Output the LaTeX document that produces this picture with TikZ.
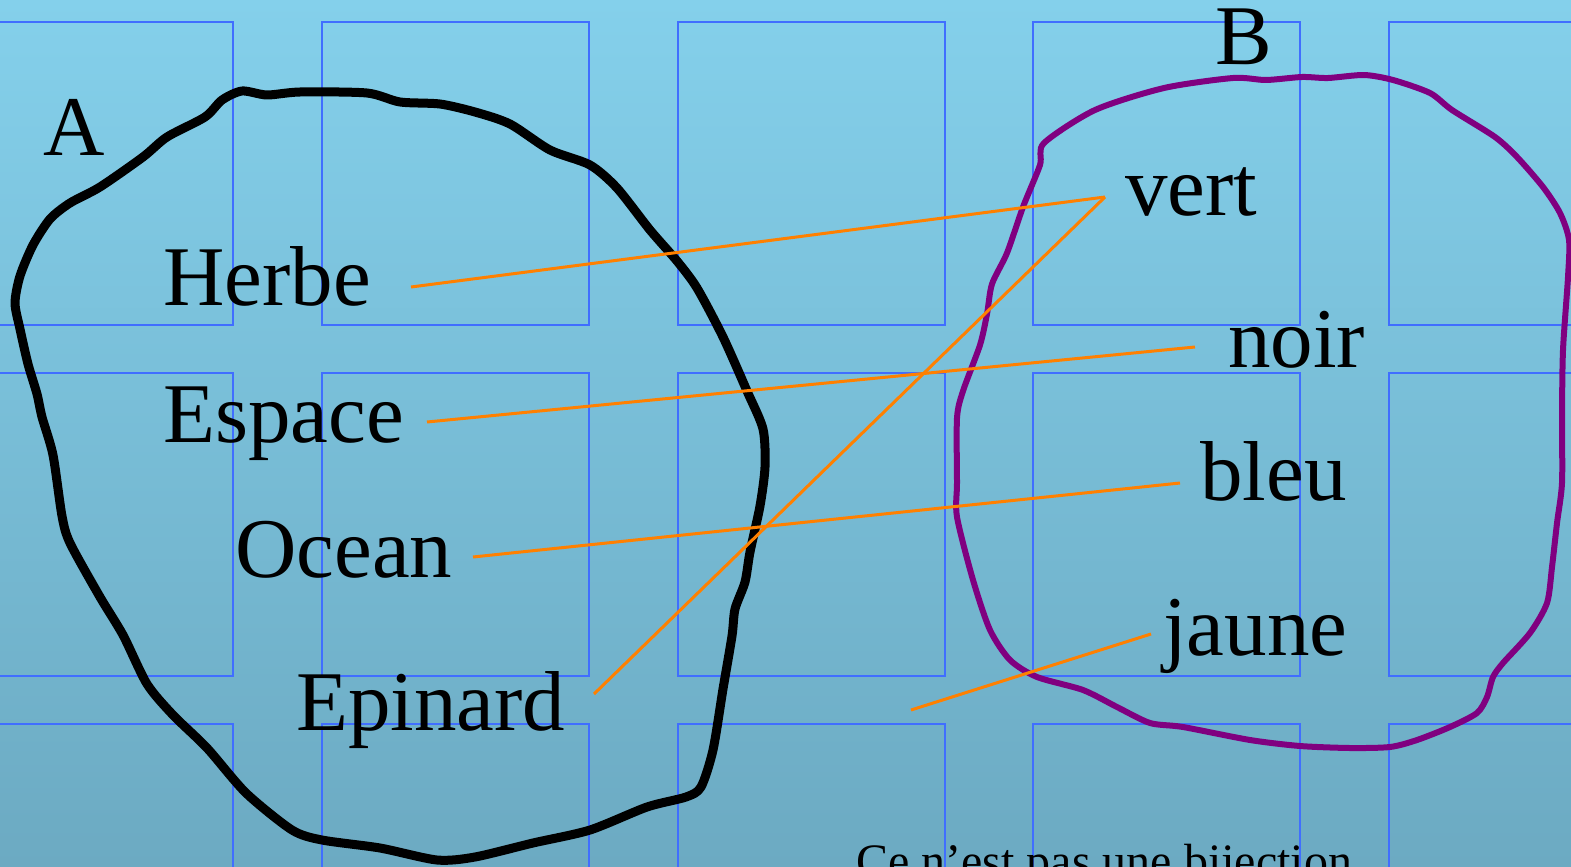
\documentclass[tikz,border=0pt]{standalone}
\usepackage{fontspec}
\setmainfont{Liberation Serif}
\definecolor{bgtop}{RGB}{132,208,235}
\definecolor{bgbot}{RGB}{108,170,194}
\definecolor{gridblue}{RGB}{64,110,255}
\definecolor{orangeline}{RGB}{255,128,0}
\definecolor{purpleB}{RGB}{128,0,128}
\tikzset{
  cell/.style={draw=gridblue, line width=1.6pt},
  lbl/.style={anchor=base west, inner sep=0pt, font=\fontsize{85}{90}\selectfont},
  small/.style={anchor=base west, inner sep=0pt, font=\fontsize{48}{52}\selectfont},
  link/.style={draw=orangeline, line width=3pt},
  blobA/.style={draw=black, line width=9pt, line join=round},
  blobB/.style={draw=purpleB, line width=6pt, line join=round},
}
\begin{document}
\begin{tikzpicture}[x=1pt,y=-1pt]
\useasboundingbox (0,0) rectangle (1571,867);
\shade[top color=bgtop, bottom color=bgbot] (0,0) rectangle (1571,867);
\begin{scope}
\clip (0,0) rectangle (1571,867);
\foreach \cx in {-34,322,678,1033,1389}{
  \foreach \cy in {22,373,724}{
    \draw[cell] (\cx,\cy) rectangle ++(267,303);
  }
}
% blob A
\draw[blobA] plot[smooth cycle, tension=0.45] coordinates {
(222,100) (242,91) (267,95) (300,92) (367,93) (400,102) (440,104) (475,112) (510,124) (550,150) (590,165) (617,188) (650,230) (677,261) (697,288) (723,337) (747,391) (763,429) (765,467) (760,506) (750,552) (745,582) (735,609) (732,636) (723,689) (713,750) (701,787) (686,797) (647,807) (590,830) (533,843) (475,857) (437,860) (380,848) (322,840) (292,830) (246,793) (207,748) (173,715) (147,684) (123,635) (100,597) (70,543) (62,516) (53,455) (42,417) (37,394) (28,364) (20,329) (15,303) (20,276) (33,245) (50,219) (70,203) (100,187) (143,157) (167,137) (205,117)};
% blob B
\draw[blobB] plot[smooth cycle, tension=0.45] coordinates {
(1044,143) (1095,110) (1164,88) (1233,78) (1266,80) (1302,77) (1328,78) (1364,75) (1393,80) (1430,93) (1452,110) (1495,137) (1517,157) (1543,187) (1560,213) (1569,240) (1568,277) (1563,350) (1562,417) (1562,483) (1557,523) (1552,567) (1547,603) (1530,633) (1503,663) (1493,677) (1487,697) (1477,713) (1450,727) (1417,740) (1390,747) (1350,748) (1300,746) (1250,740) (1183,727) (1150,723) (1117,707) (1083,690) (1037,677) (1010,660) (990,630) (973,580) (957,517) (957,483) (957,418) (963,391) (980,345) (987,314) (992,284) (1007,253) (1023,207) (1040,165)};
\end{scope}
% labels
\node[lbl] (A) at (43,155) {A};
\node[lbl] (B) at (1215,65) {B};
\node[lbl] (herbe) at (163,305) {Herbe};
\node[lbl] (espace) at (163,442) {Espace};
\node[lbl] (ocean) at (235,577) {Ocean};
\node[lbl] (epinard) at (296,730) {Epinard};
\node[lbl] (vert) at (1125,215) {vert};
\node[lbl] (noir) at (1228,367) {noir};
\node[lbl] (bleu) at (1200,500) {bleu};
\node[lbl] (jaune) at (1163,655) {jaune};
\node[small] (note) at (856,877) {Ce n’est pas une bijection};
% connector end points
\coordinate (herbeE) at (411,287);
\coordinate (espaceE) at (427,422);
\coordinate (oceanE) at (473,557);
\coordinate (epinardE) at (594,694);
\coordinate (vertW) at (1105,197);
\coordinate (noirW) at (1195,347);
\coordinate (bleuW) at (1180,483);
\coordinate (jauneW) at (1151,634);
\coordinate (freeEnd) at (911,710);
\draw[link] (herbeE) -- (vertW);
\draw[link] (epinardE) -- (vertW);
\draw[link] (espaceE) -- (noirW);
\draw[link] (oceanE) -- (bleuW);
\draw[link] (jauneW) -- (freeEnd);
\end{tikzpicture}
\end{document}
